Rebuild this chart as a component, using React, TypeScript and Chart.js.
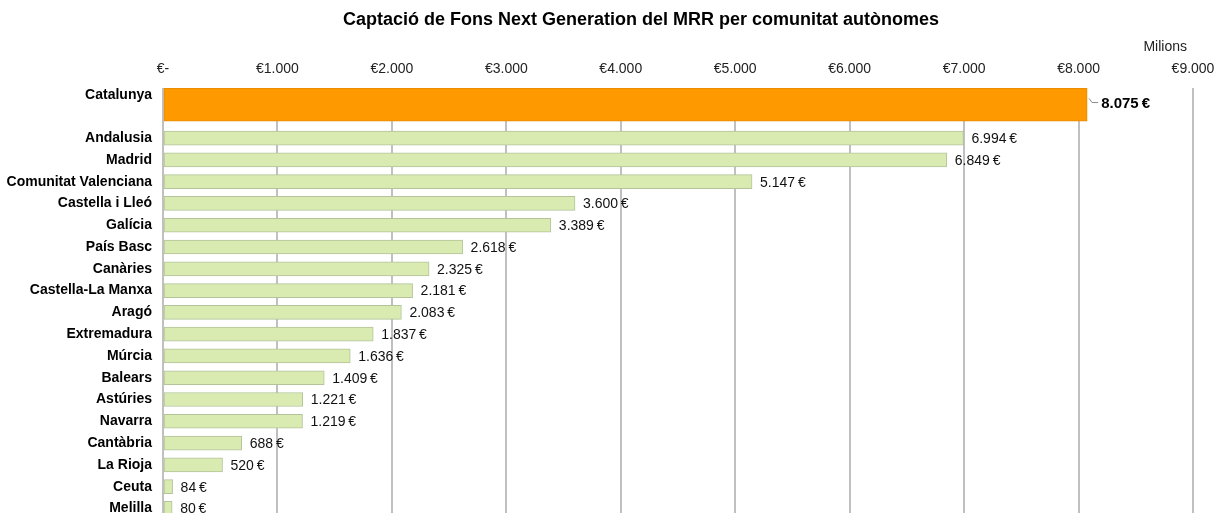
import React, { useEffect, useRef } from "react";
import { Chart, registerables } from "chart.js";

Chart.register(...registerables);

const TITLE = "Captació de Fons Next Generation del MRR per comunitat autònomes";
const UNIT_LABEL = "Milions";

const categories = [
  "Catalunya",
  "Andalusia",
  "Madrid",
  "Comunitat Valenciana",
  "Castella i Lleó",
  "Galícia",
  "País Basc",
  "Canàries",
  "Castella-La Manxa",
  "Aragó",
  "Extremadura",
  "Múrcia",
  "Balears",
  "Astúries",
  "Navarra",
  "Cantàbria",
  "La Rioja",
  "Ceuta",
  "Melilla",
];

const values = [
  8075, 6994, 6849, 5147, 3600, 3389, 2618, 2325, 2181, 2083, 1837, 1636, 1409,
  1221, 1219, 688, 520, 84, 80,
];

const xTickValues = [0, 1000, 2000, 3000, 4000, 5000, 6000, 7000, 8000, 9000];

const HIGHLIGHT = "Catalunya";
const HIGHLIGHT_ROW = -0.54; // the highlighted row sits a bit higher than the rest
const HIGHLIGHT_LABEL_ROW = -0.98; // its category label sits near the top of the wide bar

const W = 1227;
const H = 513;
const FONT = "'Liberation Sans', Arial, sans-serif";

function fmt(v: number): string {
  return String(v).replace(/\B(?=(\d{3})+(?!\d))/g, ".");
}

function rowOf(i: number): number {
  return categories[i] === HIGHLIGHT ? HIGHLIGHT_ROW : i;
}

function labelRowOf(i: number): number {
  return categories[i] === HIGHLIGHT ? HIGHLIGHT_LABEL_ROW : i;
}

export default function App() {
  const ref = useRef<HTMLCanvasElement | null>(null);

  useEffect(() => {
    if (!ref.current) return;
    const rows = categories.map((_, i) => rowOf(i));
    const labelRows = categories.map((_, i) => labelRowOf(i));
    const hiData: any[] = [];
    const restData: any[] = [];
    categories.forEach((c, i) => {
      const p = { x: values[i], y: rows[i] };
      if (c === HIGHLIGHT) hiData.push(p);
      else restData.push(p);
    });

    const labelsPlugin = {
      id: "extras",
      afterDatasetsDraw(chart: any) {
        const ctx = chart.ctx;
        ctx.save();
        chart.data.datasets.forEach((ds: any, di: number) => {
          const meta = chart.getDatasetMeta(di);
          meta.data.forEach((el: any, j: number) => {
            const v = ds.data[j].x;
            ctx.textBaseline = "middle";
            ctx.textAlign = "left";
            if (ds.isHighlight) {
              ctx.strokeStyle = "#8a8a8a";
              ctx.lineWidth = 1;
              ctx.beginPath();
              ctx.moveTo(el.x + 2, el.y - 6);
              ctx.lineTo(el.x + 5, el.y - 2);
              ctx.lineTo(el.x + 11, el.y - 2);
              ctx.stroke();
              ctx.fillStyle = "#000";
              ctx.font = "bold 15px " + FONT;
              ctx.fillText(fmt(v) + "\u2009€", el.x + 14, el.y - 1);
            } else {
              ctx.fillStyle = "#111";
              ctx.font = "14px " + FONT;
              ctx.fillText(fmt(v) + "\u2009€", el.x + 8, el.y + 1);
            }
          });
        });
        ctx.fillStyle = "#000";
        ctx.textAlign = "center";
        ctx.textBaseline = "middle";
        ctx.font = "bold 18px " + FONT;
        ctx.fillText(TITLE, 641, 20);
        ctx.textAlign = "right";
        ctx.font = "14px " + FONT;
        ctx.fillStyle = "#222";
        ctx.fillText(UNIT_LABEL, 1187, 47);
        ctx.restore();
      },
    };

    const chart = new Chart(ref.current, {
      type: "bar",
      data: {
        datasets: [
          {
            label: HIGHLIGHT,
            data: hiData,
            isHighlight: true,
            backgroundColor: "#ff9900",
            borderColor: "#e68a00",
            borderWidth: 1,
            borderSkipped: false,
            barThickness: 33,
            grouped: false,
          } as any,
          {
            label: "Resta",
            data: restData,
            backgroundColor: "#d9ebb1",
            borderColor: "#b3c39a",
            borderWidth: 1,
            borderSkipped: false,
            barThickness: 14,
            grouped: false,
          } as any,
        ],
      },
      options: {
        indexAxis: "y",
        responsive: false,
        animation: false,
        devicePixelRatio: 1,
        layout: { padding: { left: 0, right: 34, top: 0, bottom: 0 } },
        plugins: {
          legend: { display: false },
          title: { display: false },
          tooltip: { enabled: false },
        },
        scales: {
          x: {
            type: "linear",
            position: "top",
            min: 0,
            max: 9000,
            afterBuildTicks: (scale: any) => {
              scale.ticks = xTickValues.map((v) => ({ value: v }));
            },
            afterFit: (scale: any) => {
              scale.height = 88;
              scale.paddingLeft = 0;
              scale.paddingRight = 0;
            },
            ticks: {
              padding: 10,
              color: "#222",
              font: { family: FONT, size: 14 },
              callback: (v: any) => (Number(v) === 0 ? "€-" : "€" + fmt(Number(v))),
            },
            grid: {
              color: "#c0c0c0",
              lineWidth: 2,
              drawTicks: false,
            },
            border: { display: false },
          },
          y: {
            type: "linear",
            reverse: true,
            offset: false,
            min: -1.3,
            max: 18.21,
            afterBuildTicks: (scale: any) => {
              scale.ticks = labelRows.map((v) => ({ value: v }));
            },
            afterFit: (scale: any) => {
              scale.width = 163;
              scale.paddingTop = 0;
              scale.paddingBottom = 0;
            },
            ticks: {
              autoSkip: false,
              padding: 11,
              color: "#000",
              font: { family: FONT, size: 14, weight: "bold" },
              callback: (_v: any, i: number) => categories[i],
            },
            grid: { display: false, drawTicks: false, offset: false },
            border: { display: false },
          },
        },
      },
      plugins: [labelsPlugin],
    });
    return () => chart.destroy();
  }, []);

  return (
    <div style={{ position: "fixed", left: 0, top: 0, width: W, height: H, background: "#fff" }}>
      <canvas ref={ref} width={W} height={H} style={{ width: W, height: H, display: "block" }} />
    </div>
  );
}
